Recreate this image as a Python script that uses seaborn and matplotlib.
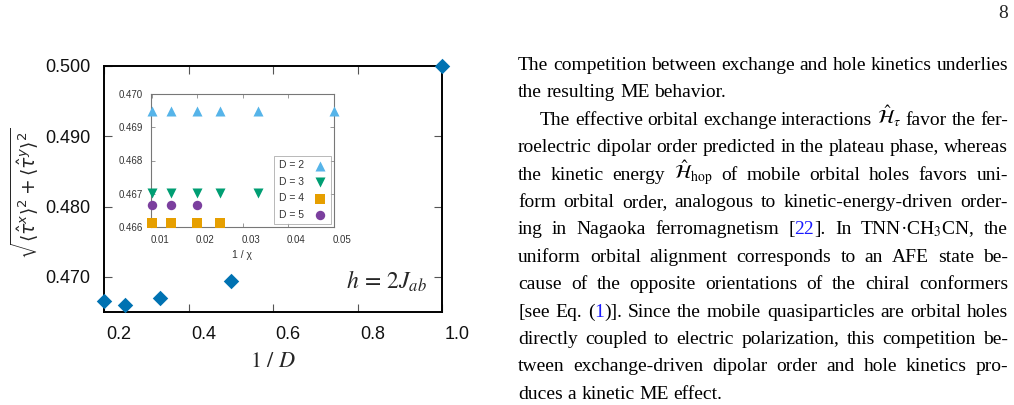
import matplotlib
matplotlib.use("Agg")
import matplotlib.pyplot as plt
import matplotlib.transforms as mtransforms
import seaborn as sns

# main panel: 1/D vs order parameter
inv_D = [0.2, 0.25, 1 / 3, 0.5, 1.0]
order = [0.4666, 0.4660, 0.4670, 0.4694, 0.5000]

# inset: 1/chi convergence per bond dimension D
chi_inv = [0.0100, 0.0143, 0.0200, 0.0250, 0.0333, 0.0500]
tau_D2 = [0.4695, 0.4695, 0.4695, 0.4695, 0.4695, 0.4695]
tau_D3 = [0.46703, 0.46703, 0.46703, 0.46703, 0.46703]
tau_D4 = [0.46612, 0.46612, 0.46612, 0.46612]
tau_D5 = [0.46666, 0.46666, 0.46666]
D_labels = ["D = 2", "D = 3", "D = 4", "D = 5"]

main_ticks_x = [0.2, 0.4, 0.6, 0.8, 1.0]
main_ticks_y = [0.470, 0.480, 0.490, 0.500]
inset_ticks_x = [0.01, 0.02, 0.03, 0.04, 0.05]
inset_ticks_y = [0.466, 0.467, 0.468, 0.469, 0.470]

# column text on the right of the page (@..@ marks blue reference numbers)
text_lines = [
    ("The competition between exchange and hole kinetics underlies", True, False),
    ("the resulting ME behavior.", False, False),
    (r"The effective orbital exchange interactions $\hat{\mathcal{H}}_{\tau}$ favor the fer-", True, True),
    ("roelectric dipolar order predicted in the plateau phase, whereas", True, False),
    (r"the kinetic energy $\hat{\mathcal{H}}_{\mathrm{hop}}$ of mobile orbital holes favors uni-", True, False),
    ("form orbital order, analogous to kinetic-energy-driven order-", True, False),
    (r"ing in Nagaoka ferromagnetism [@22@].  In TNN·CH$_3$CN, the", True, False),
    ("uniform orbital alignment corresponds to an AFE state be-", True, False),
    ("cause of the opposite orientations of the chiral conformers", True, False),
    ("[see Eq. (@1@)].  Since the mobile quasiparticles are orbital holes", True, False),
    ("directly coupled to electric polarization, this competition be-", True, False),
    ("tween exchange-driven dipolar order and hole kinetics pro-", True, False),
    ("duces a kinetic ME effect.", False, False),
]

sns.set_theme(style="ticks")
plt.rcParams["font.family"] = ["Liberation Sans", "DejaVu Sans"]
plt.rcParams["mathtext.fontset"] = "stix"

W, H = 1014, 405
fig = plt.figure(figsize=(W / 100, H / 100), dpi=100)
fig.patch.set_facecolor("white")

# ---------------- main axes ----------------
ax = fig.add_axes([104 / W, 1 - 312 / H, 338 / W, 246 / H])
sns.scatterplot(x=inv_D, y=order, marker="D", s=62, color="#0072B2",
                linewidth=0, ax=ax, clip_on=False, zorder=5)
ax.set_xlim(0.2, 1.0)
ax.set_ylim(0.465, 0.500)
ax.set_xticks(main_ticks_x)
ax.set_yticks(main_ticks_y)
ax.set_xticklabels([f"{v:.1f}" for v in main_ticks_x])
ax.set_yticklabels([f"{v:.3f}" for v in main_ticks_y])
ax.tick_params(direction="in", length=6, width=0.8, color="#555555",
               top=True, right=True, labelsize=13, pad=10, labelcolor="#111111")
for sp in ax.spines.values():
    sp.set_linewidth(1.4)
    sp.set_color("black")
shift = mtransforms.ScaledTranslation(0.15, 0, fig.dpi_scale_trans)
for lab in ax.get_xticklabels():
    lab.set_transform(lab.get_transform() + shift)
ax.set_xlabel(r"$1\ /\ D$", fontsize=16, labelpad=6)
ax.text(0.955, 0.095, r"$h\,=\,2J_{ab}$", transform=ax.transAxes,
        ha="right", va="baseline", fontsize=17)

fig.text(24 / W, 1 - 193 / H,
         r"$\sqrt{\langle\hat{\tau}^x\rangle^2+\langle\hat{\tau}^y\rangle^2}$",
         rotation=90, ha="center", va="center", fontsize=13.5,
         math_fontfamily="dejavusans")

# ---------------- inset ----------------
ins = fig.add_axes([151 / W, 1 - 227 / H, 183 / W, 133 / H])
ins.set_facecolor("white")
series = [
    (chi_inv[:6], tau_D2, "^", "#56B4E9", 52),
    (chi_inv[:5], tau_D3, "v", "#009E73", 52),
    (chi_inv[:4], tau_D4, "s", "#E69F00", 44),
    (chi_inv[:3], tau_D5, "o", "#7B3F9E", 46),
]
for (xs, ys, mk, col, sz), lab in zip(series, D_labels):
    sns.scatterplot(x=xs, y=ys, marker=mk, color=col, s=sz, linewidth=0,
                    label=lab, ax=ins, clip_on=False, zorder=5)
ins.set_xlim(0.0098, 0.05)
ins.set_ylim(0.466, 0.470)
ins.set_xticks(inset_ticks_x)
ins.set_yticks(inset_ticks_y)
ins.set_xticklabels([f"{v:.2f}" for v in inset_ticks_x])
ins.set_yticklabels([f"{v:.3f}" for v in inset_ticks_y])
ins.tick_params(direction="in", length=3, width=0.6, color="#888888",
                top=True, right=True, labelsize=7, pad=6, labelcolor="#333333")
for sp in ins.spines.values():
    sp.set_linewidth(0.8)
    sp.set_color("#777777")
shift_in = mtransforms.ScaledTranslation(0.08, 0, fig.dpi_scale_trans)
for lab in ins.get_xticklabels():
    lab.set_transform(lab.get_transform() + shift_in)
ins.set_xlabel("1 / χ", fontsize=7.5, color="#333333", labelpad=3)
leg = ins.legend(loc="lower right", markerfirst=False, fontsize=7.5,
                 frameon=True, fancybox=False, borderaxespad=0.25,
                 handletextpad=1.0, labelspacing=0.62, borderpad=0.45,
                 handlelength=1.2)
leg.get_frame().set_edgecolor("#999999")
leg.get_frame().set_linewidth(0.6)
for t in leg.get_texts():
    t.set_color("#333333")

# ---------------- page text ----------------
serif = ["Liberation Serif", "DejaVu Serif"]
renderer = fig.canvas.get_renderer()


def tokens(line):
    # split into words, each word a list of (text, colour) pieces
    out = []
    for w in line.split():
        parts = w.split("@")
        pieces = [(p, "#1a1aff" if k % 2 else "black")
                  for k, p in enumerate(parts) if p]
        out.append(pieces)
    return out


def width_of(s, size):
    t = fig.text(0, 0, s, fontsize=size, family=serif, math_fontfamily="stix")
    w = t.get_window_extent(renderer).width
    t.remove()
    return w


def layout(size):
    sp = width_of("a a", size) - width_of("aa", size)
    rows = []
    for line, just, indent in text_lines:
        words = tokens(line)
        ws = [[width_of(p, size) for p, _ in w] for w in words]
        rows.append((words, ws, just, indent))
    return sp, rows


x0, x1 = 518, 1008
size = 14.0
while True:
    sp, rows = layout(size)
    ok = True
    for words, ws, just, indent in rows:
        avail = x1 - x0 - (22 if indent else 0)
        tot = sum(sum(w) for w in ws)
        if just and (avail - tot) / (len(words) - 1) < 0.55 * sp:
            ok = False
    if ok or size < 9:
        break
    size -= 0.25

for i, (words, ws, just, indent) in enumerate(rows):
    y = 70 + 27.4 * i
    start = x0 + (22 if indent else 0)
    tot = sum(sum(w) for w in ws)
    gap = (x1 - start - tot) / (len(words) - 1) if just else sp
    x = start
    for w, wl in zip(words, ws):
        for (p, col), pw in zip(w, wl):
            fig.text(x / W, 1 - y / H, p, fontsize=size, family=serif,
                     math_fontfamily="stix", color=col, va="baseline")
            x += pw
        x += gap

fig.text(1008 / W, 1 - 18 / H, "8", fontsize=size, family=serif,
         ha="right", va="baseline")

fig.savefig("out.png", dpi=100, facecolor="white")
